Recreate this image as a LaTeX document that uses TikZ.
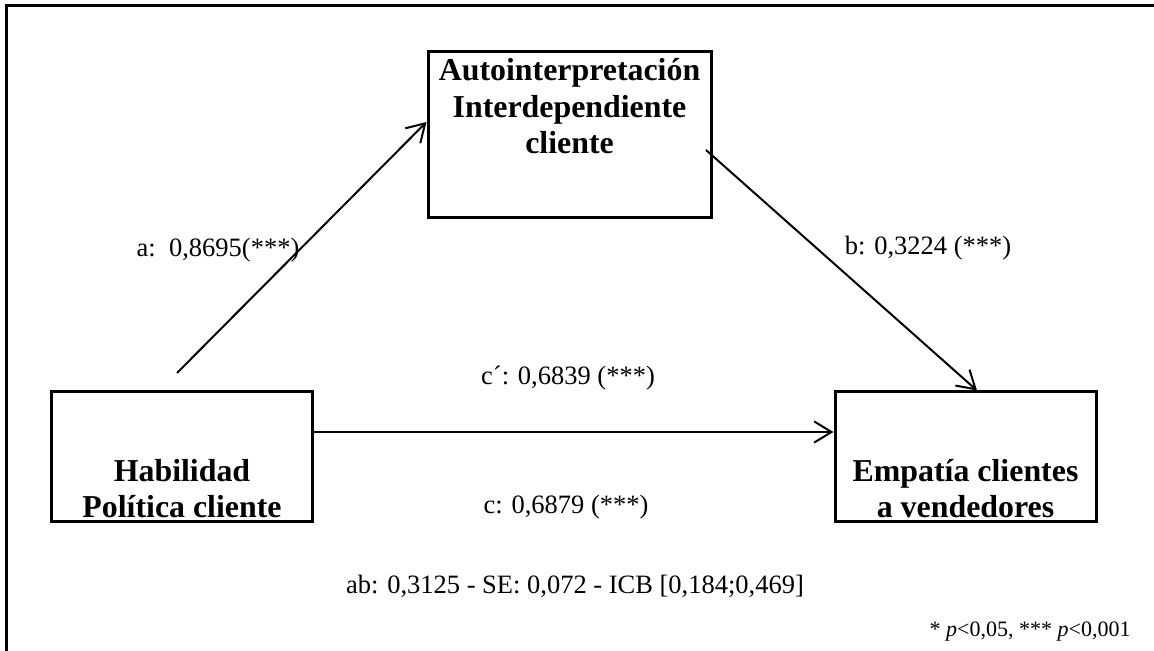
\documentclass[tikz,border=0pt]{standalone}
\usepackage{fontspec}
\setmainfont{Liberation Serif}
\usepackage{tikz}
\usetikzlibrary{positioning, arrows.meta, calc}
\tikzset{
  var box/.style={
    draw,
    line width=1.2pt,
    inner sep=0pt
  },
  var name/.style={
    font=\fontsize{12.75}{14.6}\selectfont\bfseries,
    align=center,
    inner sep=0pt
  },
  coef/.style={
    font=\fontsize{10.6}{12.7}\selectfont,
    inner sep=0pt
  },
  path arrow/.style={
    -{Straight Barb[length=7pt,width=8.5pt]},
    line width=0.8pt
  }
}

\begin{document}
\begin{tikzpicture}[x=0.4pt, y=-0.4pt]
  \useasboundingbox (0,0) rectangle (1154,651);
  % frame
  \draw[line width=1.2pt] (6,651) -- (6,5.5) -- (1154,5.5);

  \node[var box, minimum width=113.2pt, minimum height=66.4pt] (auto) at (569.5,135) {};
  \node[var box, minimum width=104pt, minimum height=52pt] (hab) at (182,457) {};
  \node[var box, minimum width=104.4pt, minimum height=52pt] (emp) at (965.5,457) {};

  \node[var name] (autoname) at ([yshift=-22.4pt]auto.north) {Autointerpretación\\Interdependiente\\cliente};
  \node[var name] (habname) at ([yshift=14pt]hab.south) {Habilidad\\Política cliente};
  \node[var name] (empname) at ([yshift=14pt]emp.south) {Empatía clientes\\a vendedores};

  \coordinate (aTail) at (177,373);
  \coordinate (bTail) at (706,150);
  \draw[path arrow] (aTail) -- (auto.west |- 0,122);
  \draw[path arrow] (bTail) -- (emp.north -| 977,0);
  \draw[path arrow] (hab.east |- 0,432) -- (emp.west |- 0,432);

  \node[coef] (alabel) at (218,250) {a:\ \ 0,8695(***)};
  \node[coef] (blabel) at (928,248) {b: 0,3224 (***)};
  \node[coef] (cplabel) at (568,378) {c´: 0,6839 (***)};
  \node[coef] (clabel) at (566,507) {c: 0,6879 (***)};
  \node[coef] (ablabel) at (575,586) {ab: 0,3125 - SE: 0,072 - ICB [0,184;0,469]};
  \node[coef, font=\fontsize{8.8}{10.5}\selectfont, anchor=east] (sig) at (1131,632) {* \textit{p}<0,05, *** \textit{p}<0,001};
\end{tikzpicture}
\end{document}
